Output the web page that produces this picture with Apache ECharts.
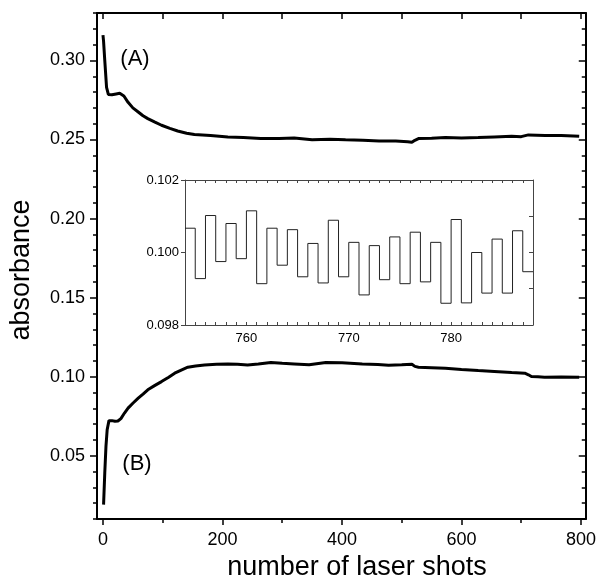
<!DOCTYPE html>
<html>
<head>
<meta charset="utf-8">
<script src="https://cdn.jsdelivr.net/npm/echarts@6/dist/echarts.min.js"></script>
<style>
  html, body { margin: 0; padding: 0; background: #fff; }
  #chart { width: 599px; height: 581px; }
</style>
</head>
<body>
<div id="chart"></div>
<script>
// curve (A)
const shotsA = [0, 1, 3, 6, 9, 15, 22, 28, 35, 42, 50, 59, 67, 75, 87, 98, 112, 125, 140, 153, 180, 209, 235, 264, 295, 320, 350, 380, 406, 435, 462, 490, 510, 517, 522, 528, 550, 573, 600, 628, 655, 684, 700, 712, 740, 767, 797];
const absA = [0.316, 0.312, 0.300, 0.283, 0.2785, 0.2783, 0.2788, 0.2792, 0.2775, 0.2735, 0.270, 0.2674, 0.265, 0.2632, 0.261, 0.259, 0.257, 0.2554, 0.254, 0.2531, 0.2525, 0.2516, 0.2512, 0.2506, 0.2506, 0.2510, 0.2499, 0.2502, 0.2499, 0.2496, 0.2491, 0.2490, 0.2486, 0.2482, 0.2495, 0.2506, 0.2508, 0.2512, 0.2510, 0.2512, 0.2516, 0.2520, 0.2518, 0.2529, 0.2526, 0.2526, 0.2520];

// curve (B)
const shotsB = [1, 3, 5, 7, 10, 15, 20, 25, 30, 36, 42, 50, 59, 67, 75, 87, 98, 110, 120, 131, 142, 155, 170, 190, 209, 225, 242, 260, 281, 300, 320, 345, 373, 400, 434, 460, 478, 500, 517, 522, 528, 550, 573, 600, 628, 655, 684, 706, 712, 717, 728, 739, 767, 797];
const absB = [0.0191, 0.0391, 0.0559, 0.0664, 0.0722, 0.0722, 0.0718, 0.0720, 0.0735, 0.0770, 0.0801, 0.0832, 0.0864, 0.0890, 0.0917, 0.0945, 0.0969, 0.0997, 0.1022, 0.1042, 0.1060, 0.1068, 0.1074, 0.1078, 0.1081, 0.1078, 0.1074, 0.1080, 0.1090, 0.1085, 0.1081, 0.1076, 0.1090, 0.1088, 0.1081, 0.1077, 0.1073, 0.1076, 0.1079, 0.1065, 0.1060, 0.1057, 0.1053, 0.1046, 0.1039, 0.1033, 0.1026, 0.1022, 0.1012, 0.1001, 0.0999, 0.0997, 0.0998, 0.0997];

// inset: single shots of (B)
const insetShots = [754, 755, 756, 757, 758, 759, 760, 761, 762, 763, 764, 765, 766, 767, 768, 769, 770, 771, 772, 773, 774, 775, 776, 777, 778, 779, 780, 781, 782, 783, 784, 785, 786, 787, 788];
const insetAbs = [0.10067, 0.09928, 0.10102, 0.09975, 0.10080, 0.09983, 0.10115, 0.09914, 0.10067, 0.09965, 0.10063, 0.09933, 0.10025, 0.09916, 0.10089, 0.09933, 0.10028, 0.09883, 0.10019, 0.09925, 0.10043, 0.09914, 0.10056, 0.09919, 0.10028, 0.09860, 0.10091, 0.09861, 0.10000, 0.09888, 0.10037, 0.09888, 0.10060, 0.09947, 0.09947];

// ticks
const xMajor = [0, 200, 400, 600, 800];
const xMinor = [100, 300, 500, 700];
const xTop = [0, 100, 200, 300, 400, 500, 600, 700, 800];
const yMajor = [0.05, 0.10, 0.15, 0.20, 0.25, 0.30];
const insetXLabels = [760, 770, 780];
const insetYLabels = [0.098, 0.100, 0.102];
const insetYRight = [0.099, 0.100, 0.101];

const font = "'Liberation Sans', Arial, sans-serif";
const black = '#000';

const chart = echarts.init(document.getElementById('chart'));

function zip(xs, ys) {
  return xs.map((x, i) => [x, ys[i]]);
}

const hidden = { show: false };
const mainLine = { onZero: false, lineStyle: { color: black, width: 2 } };
const insetLine = { onZero: false, lineStyle: { color: '#444', width: 1 } };
const noLine = { show: false, onZero: false };

const option = {
  animation: false,
  backgroundColor: '#fff',
  grid: [
    { left: 97, top: 13, right: 11, bottom: 62 },
    { left: 185, top: 180, right: 66, bottom: 256 }
  ],
  xAxis: [
    {
      gridIndex: 0, type: 'value', position: 'bottom', min: -10, max: 808,
      axisLine: mainLine,
      axisTick: { customValues: xMajor, length: 6, lineStyle: { color: black, width: 1.5 } },
      axisLabel: { customValues: xMajor, fontSize: 18, fontFamily: font, color: black, margin: 12 },
      splitLine: hidden
    },
    {
      gridIndex: 0, type: 'value', position: 'bottom', min: -10, max: 808,
      axisLine: noLine,
      axisTick: { customValues: xMinor, length: 4, lineStyle: { color: black, width: 1.5 } },
      axisLabel: hidden, splitLine: hidden
    },
    {
      gridIndex: 0, type: 'value', position: 'top', min: -10, max: 808,
      axisLine: mainLine,
      axisTick: { customValues: xTop, inside: true, length: 6, lineStyle: { color: black, width: 1.5 } },
      axisLabel: hidden, splitLine: hidden
    },
    {
      gridIndex: 1, type: 'value', position: 'bottom', min: 754, max: 788, interval: 1,
      axisLine: insetLine,
      axisTick: { inside: true, length: 3, lineStyle: { color: '#444' } },
      axisLabel: { customValues: insetXLabels, fontSize: 13, fontFamily: font, color: black, margin: 7 },
      splitLine: hidden
    },
    {
      gridIndex: 1, type: 'value', position: 'top', min: 754, max: 788, interval: 1,
      axisLine: insetLine,
      axisTick: { inside: true, length: 3, lineStyle: { color: '#444' } },
      axisLabel: hidden, splitLine: hidden
    }
  ],
  yAxis: [
    {
      gridIndex: 0, type: 'value', position: 'left', min: 0.01, max: 0.33, interval: 0.01,
      axisLine: mainLine,
      axisTick: { length: 4, lineStyle: { color: black, width: 1.5 } },
      axisLabel: hidden, splitLine: hidden
    },
    {
      gridIndex: 0, type: 'value', position: 'left', min: 0.01, max: 0.33,
      axisLine: noLine,
      axisTick: { customValues: yMajor, length: 7, lineStyle: { color: black, width: 1.5 } },
      axisLabel: {
        customValues: yMajor, fontSize: 18, fontFamily: font, color: black, margin: 12,
        formatter: v => v.toFixed(2)
      },
      splitLine: hidden
    },
    {
      gridIndex: 0, type: 'value', position: 'right', min: 0.01, max: 0.33, interval: 0.01,
      axisLine: mainLine,
      axisTick: { inside: true, length: 4, lineStyle: { color: black, width: 1.5 } },
      axisLabel: hidden, splitLine: hidden
    },
    {
      gridIndex: 0, type: 'value', position: 'right', min: 0.01, max: 0.33,
      axisLine: noLine,
      axisTick: { customValues: yMajor, inside: true, length: 7, lineStyle: { color: black, width: 1.5 } },
      axisLabel: hidden, splitLine: hidden
    },
    {
      gridIndex: 1, type: 'value', position: 'left', min: 0.098, max: 0.102,
      axisLine: insetLine,
      axisTick: { customValues: insetYLabels, length: 4, lineStyle: { color: '#444' } },
      axisLabel: {
        customValues: insetYLabels, fontSize: 13, fontFamily: font, color: black, margin: 6,
        formatter: v => v.toFixed(3)
      },
      splitLine: hidden
    },
    {
      gridIndex: 1, type: 'value', position: 'right', min: 0.098, max: 0.102,
      axisLine: insetLine,
      axisTick: { customValues: insetYRight, inside: true, length: 4, lineStyle: { color: '#444' } },
      axisLabel: hidden, splitLine: hidden
    }
  ],
  graphic: [
    {
      type: 'text', x: 22, y: 270, rotation: Math.PI / 2,
      style: { text: 'absorbance', fontSize: 27, fontFamily: font, fill: black, textAlign: 'center', textVerticalAlign: 'middle' }
    },
    {
      type: 'text', x: 357, y: 568,
      style: { text: 'number of laser shots', fontSize: 27, fontFamily: font, fill: black, textAlign: 'center', textVerticalAlign: 'middle' }
    },
    {
      type: 'text', x: 135, y: 59,
      style: { text: '(A)', fontSize: 22, fontFamily: font, fill: black, textAlign: 'center', textVerticalAlign: 'middle' }
    },
    {
      type: 'text', x: 137, y: 464,
      style: { text: '(B)', fontSize: 22, fontFamily: font, fill: black, textAlign: 'center', textVerticalAlign: 'middle' }
    }
  ],
  series: [
    {
      type: 'line', xAxisIndex: 0, yAxisIndex: 0, showSymbol: false,
      data: zip(shotsA, absA),
      lineStyle: { color: black, width: 3 }
    },
    {
      type: 'line', xAxisIndex: 0, yAxisIndex: 0, showSymbol: false,
      data: zip(shotsB, absB),
      lineStyle: { color: black, width: 3 }
    },
    {
      type: 'line', xAxisIndex: 3, yAxisIndex: 4, showSymbol: false, step: 'end',
      data: zip(insetShots, insetAbs),
      lineStyle: { color: '#222', width: 1 }
    }
  ]
};

chart.setOption(option);
</script>
</body>
</html>
